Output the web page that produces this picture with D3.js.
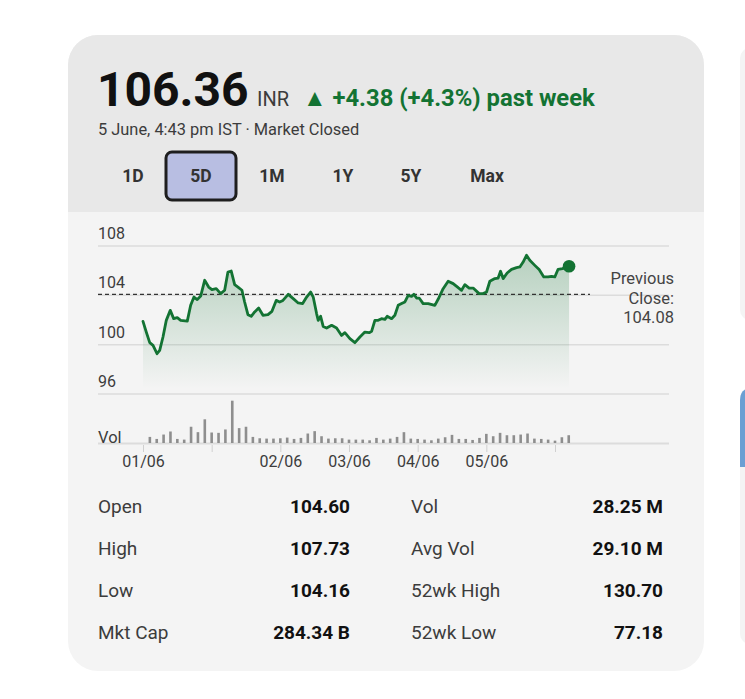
<!DOCTYPE html>
<html lang="en">
<head>
  <meta charset="UTF-8" />
  <title>Stock quote card</title>
  <script src="https://d3js.org/d3.v7.min.js"></script>
  <style>
    body { margin: 0; background: #fff; font-family: Roboto, "Noto Sans", sans-serif; }
  </style>
</head>
<body>
  <svg id="chart" width="745" height="699"></svg>

  <script>
    // price trace: time in days from 01/06, price in INR
    const priceTimes = [0.000, 0.048, 0.098, 0.146, 0.204, 0.243, 0.291, 0.339, 0.397, 0.447,
      0.499, 0.549, 0.645, 0.694, 0.742, 0.790, 0.840, 0.898, 0.956, 1.004,
      1.067, 1.131, 1.189, 1.237, 1.285, 1.335, 1.383, 1.441, 1.480, 1.528,
      1.576, 1.626, 1.684, 1.747, 1.820, 1.878, 1.940, 1.990, 2.038, 2.115,
      2.188, 2.260, 2.325, 2.383, 2.441, 2.479, 2.528, 2.552, 2.587, 2.624,
      2.674, 2.747, 2.819, 2.892, 2.940, 3.013, 3.086, 3.159, 3.231, 3.294,
      3.329, 3.377, 3.425, 3.474, 3.523, 3.556, 3.620, 3.668, 3.716, 3.766,
      3.814, 3.862, 3.911, 3.945, 3.984, 4.022, 4.080, 4.153, 4.250, 4.298,
      4.371, 4.444, 4.517, 4.590, 4.639, 4.687, 4.750, 4.808, 4.895, 4.953,
      5.003, 5.051, 5.124, 5.172, 5.207, 5.245, 5.303, 5.367, 5.440, 5.488,
      5.536, 5.585, 5.633, 5.706, 5.769, 5.837, 5.900, 5.949, 5.997, 6.045,
      6.109, 6.205];
    const prices = [101.89, 101.02, 100.16, 99.94, 99.27, 99.54, 100.62, 101.97, 102.78, 102.11,
      102.19, 101.97, 101.91, 103.19, 103.86, 103.65, 103.94, 105.22, 104.67, 104.46,
      104.54, 104.14, 104.41, 105.89, 105.97, 104.87, 104.67, 104.41, 103.46, 102.43,
      102.30, 102.65, 102.97, 102.38, 102.43, 102.70, 103.59, 103.46, 103.59, 104.08,
      103.73, 103.38, 103.33, 103.86, 104.27, 103.86, 102.52, 101.97, 102.30, 101.48,
      101.35, 101.57, 101.35, 100.75, 100.97, 100.49, 100.16, 100.62, 101.02, 100.97,
      101.08, 101.97, 101.97, 102.11, 102.05, 102.30, 102.11, 102.38, 103.19, 103.33,
      103.46, 104.00, 103.92, 104.08, 103.78, 103.78, 103.33, 103.33, 103.19, 103.68,
      104.54, 105.14, 104.95, 104.62, 104.41, 104.87, 104.59, 104.59, 104.14, 104.14,
      104.27, 105.14, 105.36, 105.40, 105.95, 105.36, 105.81, 106.11, 106.25, 106.30,
      106.70, 107.25, 106.84, 106.43, 106.09, 105.49, 105.49, 105.54, 105.49, 106.11,
      106.17, 106.36];

    // volume (millions), one bar every 0.1 day starting at 0.1
    const volumes = [7.2, 4.8, 10.0, 13.6, 4.8, 4.0, 19.2, 12.8, 28.0, 12.4,
      12.0, 16.0, 50.0, 17.6, 19.2, 7.2, 5.6, 5.2, 5.2, 5.6,
      6.4, 4.8, 6.0, 11.2, 14.0, 8.0, 5.2, 5.6, 5.6, 4.0,
      4.0, 4.0, 3.2, 6.0, 4.0, 5.2, 7.2, 12.8, 5.2, 4.8,
      4.0, 3.2, 5.2, 6.8, 9.6, 4.8, 4.8, 3.6, 6.0, 10.8,
      8.0, 12.0, 9.2, 9.2, 10.0, 11.2, 5.2, 4.8, 4.0, 2.8,
      6.8, 9.2];

    const yTicks = [96, 100, 104, 108];
    const xTickDays = [0, 1, 2, 3, 4, 5, 6];
    const xTickLabels = ["01/06", "", "02/06", "03/06", "04/06", "05/06", ""];
    const previousClose = 104.08;

    const tabs = ["1D", "5D", "1M", "1Y", "5Y", "Max"];
    const activeTab = "5D";

    const statsLeft = [["Open", "104.60"], ["High", "107.73"], ["Low", "104.16"], ["Mkt Cap", "284.34 B"]];
    const statsRight = [["Vol", "28.25 M"], ["Avg Vol", "29.10 M"], ["52wk High", "130.70"], ["52wk Low", "77.18"]];

    const green = "#137333";
    const textMid = "#3c3c3c";

    const svg = d3.select("#chart");

    // neighbouring card at the right edge
    svg.append("rect").attr("x", 740).attr("y", 48).attr("width", 40).attr("height", 272)
      .attr("rx", 10).attr("fill", "#f4f4f4");
    svg.append("rect").attr("x", 740).attr("y", 388).attr("width", 40).attr("height", 256)
      .attr("rx", 10).attr("fill", "#f4f4f4");
    svg.append("path").attr("d", "M740,400 Q740,388 752,388 L780,388 L780,467 L740,467 Z")
      .attr("fill", "#6b9fd3");

    // main card
    const card = { x: 68, y: 35, w: 636, h: 636, r: 30 };
    svg.append("clipPath").attr("id", "cardClip")
      .append("rect").attr("x", card.x).attr("y", card.y).attr("width", card.w).attr("height", card.h).attr("rx", card.r);
    const cardG = svg.append("g").attr("clip-path", "url(#cardClip)");
    cardG.append("rect").attr("x", card.x).attr("y", card.y).attr("width", card.w).attr("height", card.h).attr("fill", "#f4f4f4");
    cardG.append("rect").attr("x", card.x).attr("y", card.y).attr("width", card.w).attr("height", 177).attr("fill", "#e8e8e8");

    // header
    svg.append("text").attr("x", 97).attr("y", 106)
      .attr("font-size", 48).attr("font-weight", 700).attr("fill", "#111")
      .text("106.36");
    svg.append("text").attr("x", 257).attr("y", 106)
      .attr("font-size", 20).attr("fill", textMid)
      .text("INR");
    svg.append("text").attr("x", 303).attr("y", 106)
      .attr("font-size", 23.8).attr("font-weight", 700).attr("fill", green)
      .text("▲ +4.38 (+4.3%) past week");
    svg.append("text").attr("x", 98).attr("y", 135)
      .attr("font-size", 16.4).attr("fill", textMid)
      .text("5 June, 4:43 pm IST · Market Closed");

    // tab strip, centres follow the label widths
    const tabCentres = [133, 201, 272, 343, 411, 487];
    const tabX = d3.scaleOrdinal().domain(tabs).range(tabCentres);
    const tabG = svg.append("g");
    tabG.append("rect")
      .attr("x", tabX(activeTab) - 35).attr("y", 152).attr("width", 70).attr("height", 48)
      .attr("rx", 6).attr("fill", "#b8bee2").attr("stroke", "#1e1e1e").attr("stroke-width", 3);
    tabG.selectAll("text.tab").data(tabs).join("text")
      .attr("class", "tab")
      .attr("x", d => tabX(d)).attr("y", 182)
      .attr("text-anchor", "middle")
      .attr("font-size", 17.5).attr("font-weight", 700).attr("fill", "#333")
      .text(d => d);

    // price chart
    const x = d3.scaleLinear().domain([0, 6]).range([143, 555]);
    const y = d3.scaleLinear().domain([96, 108]).range([394, 246]);
    const plotLeft = 98, plotRight = 669;

    const priceData = priceTimes.map((t, i) => ({ t, p: prices[i] }));

    const grid = svg.append("g");
    grid.selectAll("line").data(yTicks).join("line")
      .attr("x1", plotLeft).attr("x2", plotRight)
      .attr("y1", d => y(d)).attr("y2", d => y(d))
      .attr("stroke", "#dcdcdc").attr("stroke-width", 1.5);
    grid.selectAll("text").data(yTicks).join("text")
      .attr("x", plotLeft).attr("y", d => y(d) - 7)
      .attr("font-size", 16).attr("fill", textMid)
      .text(d => d);

    const defs = svg.append("defs");
    const grad = defs.append("linearGradient").attr("id", "areaFill")
      .attr("gradientUnits", "userSpaceOnUse")
      .attr("x1", 0).attr("x2", 0).attr("y1", y(107.5)).attr("y2", y(96.4));
    grad.append("stop").attr("offset", 0).attr("stop-color", green).attr("stop-opacity", 0.28);
    grad.append("stop").attr("offset", 1).attr("stop-color", green).attr("stop-opacity", 0.0);

    const area = d3.area().x(d => x(d.t)).y0(y(96.5)).y1(d => y(d.p));
    svg.append("path").datum(priceData).attr("d", area).attr("fill", "url(#areaFill)");

    svg.append("line")
      .attr("x1", plotLeft).attr("x2", 590)
      .attr("y1", y(previousClose)).attr("y2", y(previousClose))
      .attr("stroke", "#333").attr("stroke-width", 1.3).attr("stroke-dasharray", "4,3");

    const line = d3.line().x(d => x(d.t)).y(d => y(d.p));
    svg.append("path").datum(priceData).attr("d", line)
      .attr("fill", "none").attr("stroke", green).attr("stroke-width", 2.8)
      .attr("stroke-linejoin", "round").attr("stroke-linecap", "round");

    const last = priceData[priceData.length - 1];
    svg.append("circle").attr("cx", x(last.t)).attr("cy", y(last.p)).attr("r", 6.3).attr("fill", green);

    const pc = svg.append("text").attr("text-anchor", "end").attr("font-size", 16.5).attr("fill", "#444");
    ["Previous", "Close:", previousClose.toFixed(2)].forEach((s, i) => {
      pc.append("tspan").attr("x", 674).attr("y", 284 + i * 19.5).text(s);
    });

    // volume
    const yVol = d3.scaleLinear().domain([0, 52]).range([443, 399]);
    svg.append("line").attr("x1", plotLeft).attr("x2", plotRight)
      .attr("y1", 443.5).attr("y2", 443.5).attr("stroke", "#dcdcdc").attr("stroke-width", 2);
    svg.append("g").selectAll("rect").data(volumes).join("rect")
      .attr("x", (d, i) => x(0.1 * (i + 1)) - 1.3)
      .attr("y", d => yVol(d))
      .attr("width", 2.6)
      .attr("height", d => 443 - yVol(d))
      .attr("fill", "#8e8e8e");
    svg.append("text").attr("x", plotLeft).attr("y", 443)
      .attr("font-size", 16.5).attr("fill", textMid).text("Vol");

    const xAxis = d3.axisBottom(x).tickValues(xTickDays)
      .tickFormat((d, i) => xTickLabels[i]).tickSize(7).tickSizeOuter(0).tickPadding(4);
    const xg = svg.append("g").attr("transform", "translate(0,445)").call(xAxis);
    xg.select(".domain").remove();
    xg.selectAll(".tick line").attr("stroke", "#d0d0d0");
    xg.selectAll(".tick text").attr("font-size", 16).attr("fill", textMid)
      .attr("font-family", "Roboto, sans-serif");

    // stats table
    const rowY = d3.scalePoint().domain(d3.range(4)).range([513, 639]);
    function statColumn(rows, labelX, valueX) {
      const g = svg.append("g");
      g.selectAll("text.lab").data(rows).join("text").attr("class", "lab")
        .attr("x", labelX).attr("y", (d, i) => rowY(i))
        .attr("font-size", 19).attr("fill", textMid).text(d => d[0]);
      g.selectAll("text.val").data(rows).join("text").attr("class", "val")
        .attr("x", valueX).attr("y", (d, i) => rowY(i))
        .attr("text-anchor", "end")
        .attr("font-size", 19).attr("font-weight", 700).attr("fill", "#111").text(d => d[1]);
    }
    statColumn(statsLeft, 98, 350);
    statColumn(statsRight, 411, 663);
  </script>
</body>
</html>
